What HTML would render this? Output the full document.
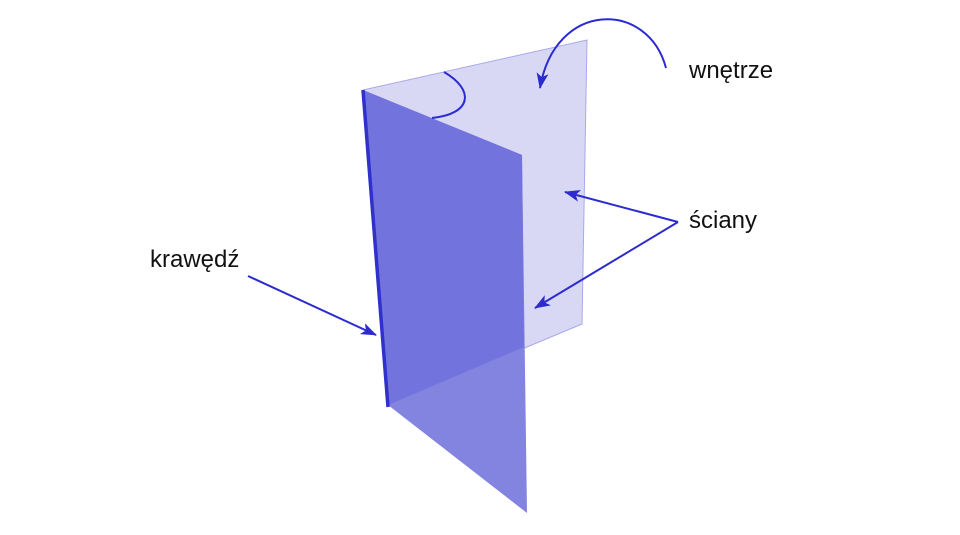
<!DOCTYPE html>
<html><head><meta charset="utf-8"><style>
html,body{margin:0;padding:0;background:#fff;width:960px;height:535px;overflow:hidden}
</style></head><body>
<svg width="960" height="535" viewBox="0 0 960 535" xmlns="http://www.w3.org/2000/svg">
<defs>
<marker id="b" markerWidth="16" markerHeight="16" refX="15" refY="8" orient="auto" markerUnits="userSpaceOnUse" viewBox="0 0 16 16">
<path d="M0,2 L16,8 L0,14 L4,8 Z" fill="#2b2bd0"/>
</marker>
</defs>
<polygon points="363,90 587,40 582,324 388,405" fill="#d8d8f5" stroke="#a8a8ec" stroke-width="1"/>
<polygon points="363,90 522,155 527,513 388,405" fill="#8383e0"/>
<polygon points="363,90 522,155 524,347 388,405" fill="#7373dd"/>
<line x1="363" y1="90" x2="388" y2="407" stroke="#3030cc" stroke-width="3.5"/>
<path d="M444,72 C475,90 472,114 432,118" fill="none" stroke="#2b2bd0" stroke-width="2"/>
<path d="M666,68 C648,0 555,0 540,88" fill="none" stroke="#2b2bd0" stroke-width="2" marker-end="url(#b)"/>
<line x1="678" y1="222" x2="565" y2="192" stroke="#2b2bd0" stroke-width="2" marker-end="url(#b)"/>
<line x1="678" y1="222" x2="535" y2="308" stroke="#2b2bd0" stroke-width="2" marker-end="url(#b)"/>
<line x1="248" y1="276" x2="376" y2="335" stroke="#2b2bd0" stroke-width="2" marker-end="url(#b)"/>
<g font-family="Liberation Sans, DejaVu Sans, sans-serif" font-size="24" fill="#111">
<text x="689" y="78">wnętrze</text>
<text x="689" y="228">ściany</text>
<text x="150" y="267">krawędź</text>
</g>
</svg>
</body></html>
